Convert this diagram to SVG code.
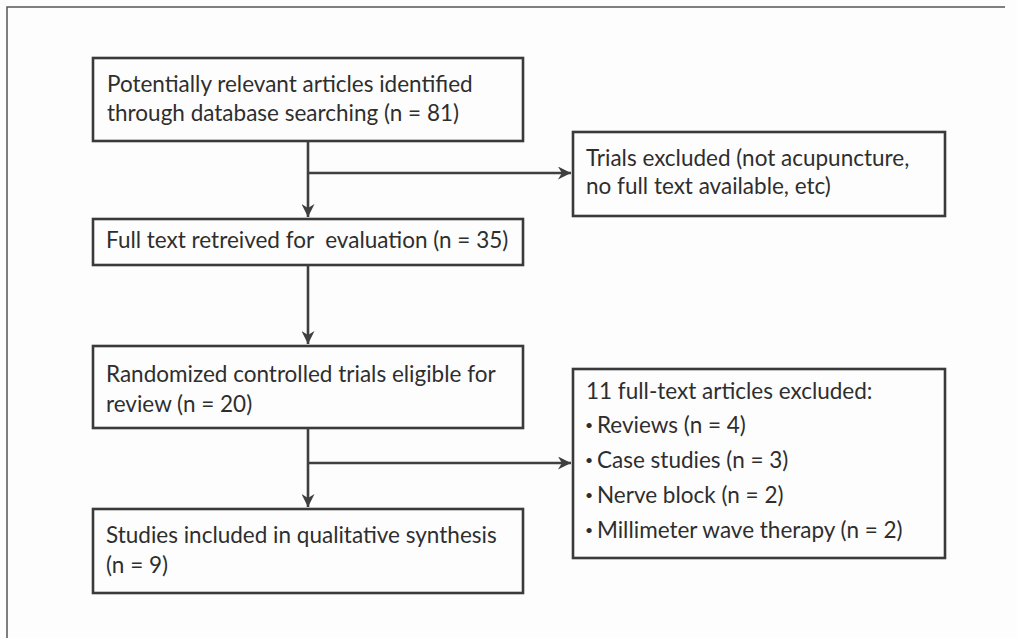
<svg xmlns="http://www.w3.org/2000/svg" width="1017" height="638" viewBox="0 0 1017 638">
<style>
.box{fill:none;stroke:#3a3a3a;stroke-width:2.6}
.t{font-family:Lato,"Liberation Sans",sans-serif;font-size:22.5px;fill:#2e2e2e}
.b{font-size:14px}
.c{fill:none;stroke:#3f3f3f;stroke-width:2.6}
.frame{fill:none;stroke:#555;stroke-width:1.5}
</style>
<defs>
<marker id="ah" viewBox="0 0 10 10" refX="10" refY="5" markerWidth="5.5" markerHeight="5" orient="auto" markerUnits="strokeWidth">
<path d="M0,0 L10,5 L0,10 L3,5 Z" fill="#3f3f3f"/>
</marker>
</defs>
<rect width="1017" height="638" fill="#fdfdfd"/>
<path class="frame" d="M7,638 V7 H1005"/>
<g id="n1"><rect class="box" x="93" y="58" width="430" height="83"/>
<text class="t" x="107" y="92">Potentially relevant articles identified</text>
<text class="t" x="107" y="121">through database searching (n = 81)</text></g>
<g id="n2"><rect class="box" x="573" y="132" width="372" height="84"/>
<text class="t" x="586" y="166">Trials excluded (not acupuncture,</text>
<text class="t" x="586" y="194">no full text available, etc)</text></g>
<g id="n3"><rect class="box" x="93" y="219" width="430" height="46"/>
<text class="t" x="106" y="248" xml:space="preserve">Full text retreived for  evaluation (n = 35)</text></g>
<g id="n4"><rect class="box" x="93" y="346" width="430" height="82"/>
<text class="t" x="106" y="382">Randomized controlled trials eligible for</text>
<text class="t" x="106" y="412">review (n = 20)</text></g>
<g id="n5"><rect class="box" x="93" y="509" width="430" height="84"/>
<text class="t" x="106" y="543">Studies included in qualitative synthesis</text>
<text class="t" x="106" y="573">(n = 9)</text></g>
<g id="n6"><rect class="box" x="573" y="369" width="372" height="189"/>
<text class="t" x="586" y="399">11 full-text articles excluded:</text>
<text class="t" x="585" y="433"><tspan class="b" dy="-3">•</tspan><tspan x="597" dy="3">Reviews (n = 4)</tspan></text>
<text class="t" x="585" y="468"><tspan class="b" dy="-3">•</tspan><tspan x="597" dy="3">Case studies (n = 3)</tspan></text>
<text class="t" x="585" y="503"><tspan class="b" dy="-3">•</tspan><tspan x="597" dy="3">Nerve block (n = 2)</tspan></text>
<text class="t" x="585" y="538"><tspan class="b" dy="-3">•</tspan><tspan x="597" dy="3">Millimeter wave therapy (n = 2)</tspan></text></g>
<g id="connectors">
<path class="c" d="M308,141 V217" marker-end="url(#ah)"/>
<path class="c" d="M308,173 H571" marker-end="url(#ah)"/>
<path class="c" d="M308,265 V344" marker-end="url(#ah)"/>
<path class="c" d="M308,428 V507" marker-end="url(#ah)"/>
<path class="c" d="M308,463 H571" marker-end="url(#ah)"/>
</g>
</svg>
